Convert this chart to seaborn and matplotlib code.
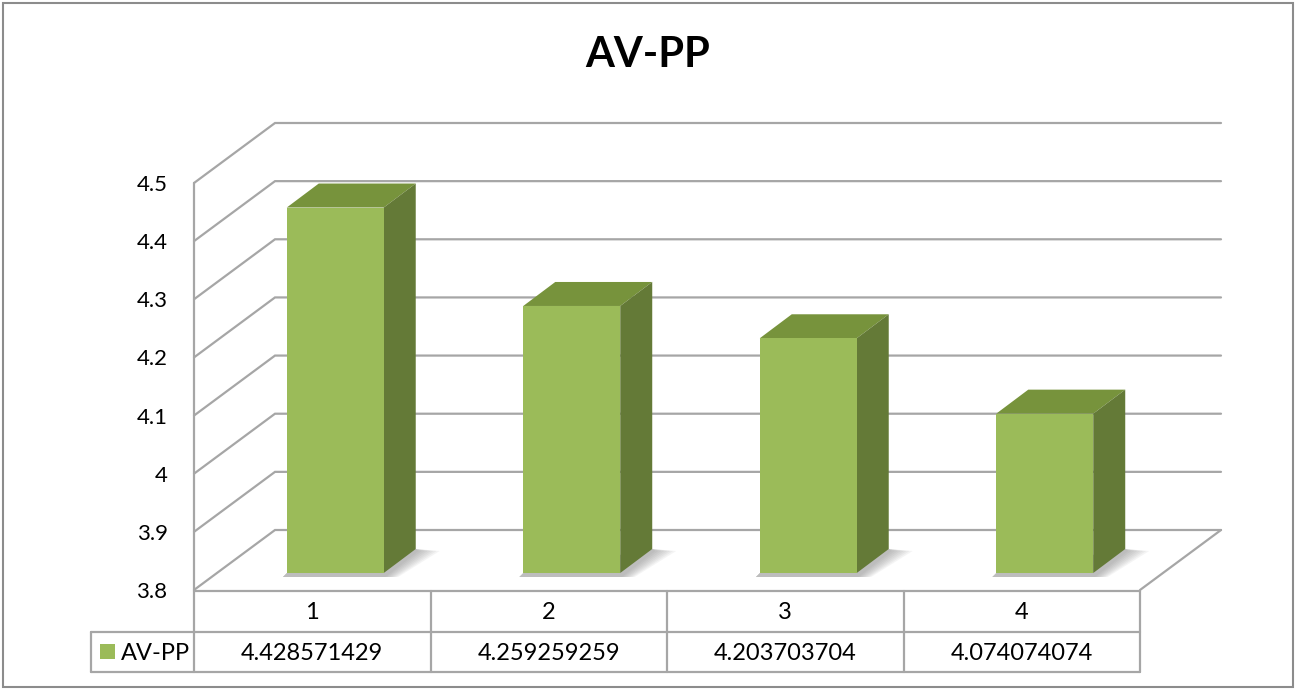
import matplotlib
matplotlib.use('Agg')
import matplotlib.pyplot as plt
from matplotlib.patches import Polygon, Rectangle
import numpy as np
import pandas as pd
import seaborn as sns

# chart data
categories = ['1', '2', '3', '4']
values = [4.428571429, 4.259259259, 4.203703704, 4.074074074]
series_name = 'AV-PP'
y_ticks = [3.8, 3.9, 4.0, 4.1, 4.2, 4.3, 4.4, 4.5]
y_tick_labels = ['3.8', '3.9', '4', '4.1', '4.2', '4.3', '4.4', '4.5']
chart_title = 'AV-PP'

sns.set_style('white')
plt.rcParams['font.family'] = ['Lato', 'DejaVu Sans']
plt.rcParams['text.color'] = 'black'
plt.rcParams['ytick.color'] = 'black'

W, H = 1296, 690
fig = plt.figure(figsize=(W / 100, H / 100), dpi=100)

front_col = '#9BBB59'
top_col = '#77933C'
side_col = '#647A37'
grid_col = '#A6A6A6'
fs = 16
fs_table = 17


def box(x0, y0, x1, y1):
    # pixel box (origin top-left) -> figure fraction rect
    return [x0 / W, 1 - y1 / H, (x1 - x0) / W, (y1 - y0) / H]


# pixel canvas for walls, table and frame
bg = fig.add_axes([0, 0, 1, 1], zorder=0)
bg.set_xlim(0, W)
bg.set_ylim(H, 0)
bg.axis('off')

# front plane (value axis)
FX0, FX1, FY_TOP, FY_BOT = 194, 1140, 183, 590
DX, DY = 81, -60  # depth of the back wall
fax = fig.add_axes(box(FX0, FY_TOP, FX1, FY_BOT), zorder=1)
fax.set_facecolor('none')
fax.set_ylim(y_ticks[0], y_ticks[-1])
fax.set_xlim(0, len(categories))
fax.set_yticks(y_ticks, y_tick_labels)
fax.set_xticks([])
fax.tick_params(axis='y', length=0, pad=19, labelsize=fs, labelcolor='black')
for s in fax.spines.values():
    s.set_visible(False)


def to_bg(ax, pts):
    return bg.transData.inverted().transform(ax.transData.transform(pts))


# walls + gridlines
for v in y_ticks:
    (x, y), = to_bg(fax, [(0, v)])
    bg.plot([x, x + DX, FX1 + DX], [y, y + DY, y + DY], color=grid_col, lw=1.6,
            solid_joinstyle='miter', zorder=1)
bg.plot([FX1, FX1 + DX], [FY_BOT, FY_BOT + DY], color=grid_col, lw=1.6, zorder=1)

# bars, placed half way into the depth
bx_shift, by_shift = 23, -17
bax = fig.add_axes(box(FX0 + bx_shift, FY_TOP + by_shift, FX1 + bx_shift, FY_BOT + by_shift), zorder=2)
bax.set_facecolor('none')
df = pd.DataFrame({'cat': categories, 'val': values})
sns.barplot(data=df, x='cat', y='val', order=categories, color=front_col, saturation=1,
            width=0.41, ax=bax, linewidth=0)
bax.set_ylim(y_ticks[0], y_ticks[-1])
bax.set_xlim(-0.5, len(categories) - 0.5)
bax.axis('off')

# 3d faces and floor shadow from each bar
ox, oy = 32, -24
ymin = y_ticks[0]
for p in bax.patches:
    x0, x1 = p.get_x(), p.get_x() + p.get_width()
    y1 = p.get_y() + p.get_height()
    (lx, ty), (rx, by) = to_bg(bax, [(x0, y1), (x1, ymin)])
    top = [(lx, ty), (rx, ty), (rx + ox, ty + oy), (lx + ox, ty + oy)]
    side = [(rx, ty), (rx + ox, ty + oy), (rx + ox, by + oy), (rx, by)]
    bg.add_patch(Polygon(top, closed=True, fc=top_col, ec='none', zorder=4))
    bg.add_patch(Polygon(side, closed=True, fc=side_col, ec='none', zorder=4))
    for k in range(8):
        d = 3 + k * 3
        sh = [(lx - 4, by + 4), (rx + d * 0.6, by + 4), (rx + ox + d, by + oy + 2),
              (rx + ox, by + oy), (lx, by)]
        bg.add_patch(Polygon(sh, closed=True, fc='#707070', ec='none', alpha=0.07, zorder=3))

# front axis line and data table
cols = np.linspace(FX0, FX1, len(categories) + 1)
T0, T1, T2, LX = 591, 632, 672, 91
line_kw = dict(color=grid_col, lw=1.6, zorder=5)
bg.plot([FX0, FX0], [FY_TOP, T2], **line_kw)
bg.plot([FX0, FX1], [T0, T0], **line_kw)
bg.plot([LX, FX1], [T1, T1], **line_kw)
bg.plot([LX, FX1], [T2, T2], **line_kw)
bg.plot([LX, LX], [T1, T2], **line_kw)
for c in cols[1:]:
    bg.plot([c, c], [T0, T2], **line_kw)
for i, (cat, v) in enumerate(zip(categories, values)):
    xc = (cols[i] + cols[i + 1]) / 2
    bg.text(xc, (T0 + T1) / 2 + 1, cat, ha='center', va='center', fontsize=fs_table)
    bg.text(xc, (T1 + T2) / 2 + 1, f'{v:.10g}', ha='center', va='center', fontsize=fs_table)
bg.add_patch(Rectangle((100, 644), 15, 15, fc=front_col, ec='none', zorder=5))
bg.text(121, (T1 + T2) / 2 + 1, series_name, ha='left', va='center', fontsize=fs_table)

# title and chart border
bg.text(648, 55, chart_title, ha='center', va='center', fontsize=30, fontweight='bold')
bg.add_patch(Rectangle((3, 3), W - 6, H - 6, fc='none', ec='#8C8C8C', lw=1.5, zorder=6))

fig.savefig('out.png', dpi=100)
